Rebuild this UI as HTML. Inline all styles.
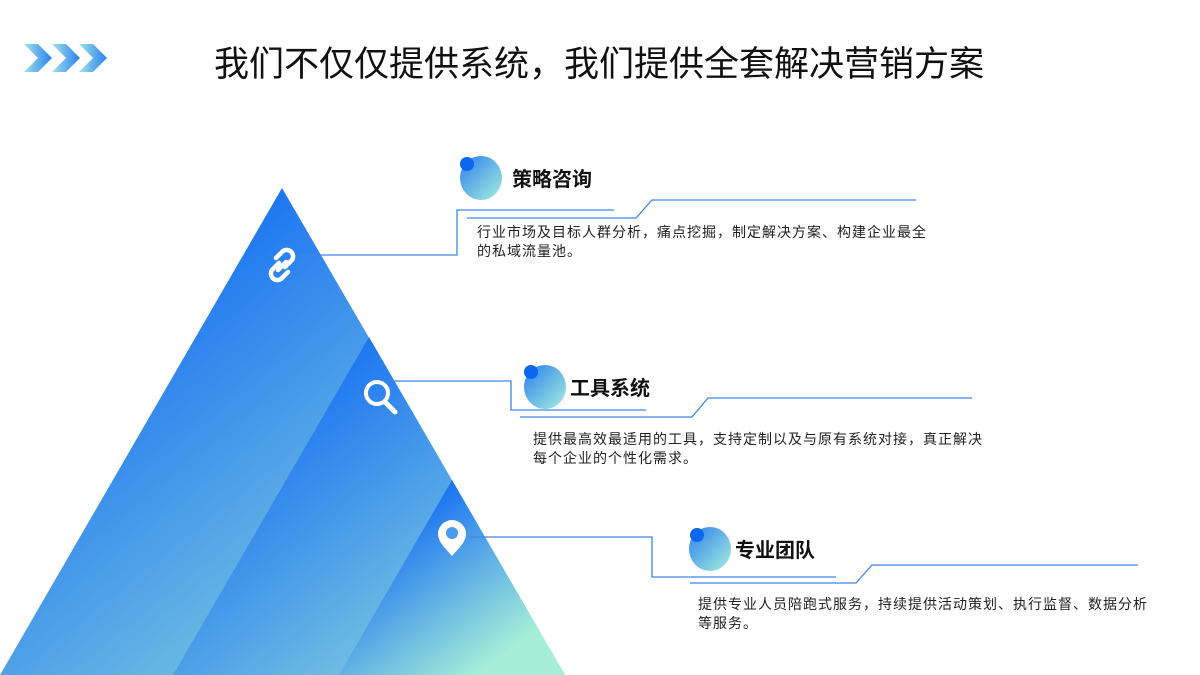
<!DOCTYPE html>
<html><head><meta charset="utf-8"><style>
html,body{margin:0;padding:0;background:#fff;}
body{width:1200px;height:675px;position:relative;overflow:hidden;font-family:"Liberation Sans","Noto Sans CJK SC",sans-serif;}
.t{position:absolute;white-space:nowrap;color:#111;}
.d{font-size:14px;line-height:19px;color:#222;letter-spacing:1px;}
</style></head><body>
<svg width="1200" height="675" style="position:absolute;left:0;top:0">
<defs>
<linearGradient id="g1" gradientUnits="userSpaceOnUse" x1="200" y1="250" x2="560" y2="700"><stop offset="0" stop-color="#1e76f1"/><stop offset="1" stop-color="#a6eed8"/></linearGradient>
<linearGradient id="g2" gradientUnits="userSpaceOnUse" x1="300" y1="390" x2="560" y2="720"><stop offset="0" stop-color="#1e76f1"/><stop offset="1" stop-color="#a6eed8"/></linearGradient>
<linearGradient id="g3" gradientUnits="userSpaceOnUse" x1="410" y1="520" x2="510" y2="650"><stop offset="0" stop-color="#1e76f1"/><stop offset="1" stop-color="#a6eed8"/></linearGradient>
<linearGradient id="gc" x1="0" y1="0" x2="1" y2="1"><stop offset="0" stop-color="#2b7ff0"/><stop offset="1" stop-color="#a6efdc"/></linearGradient>
<linearGradient id="gv" x1="0" y1="0" x2="1" y2="0"><stop offset="0" stop-color="#9fe3e4"/><stop offset="1" stop-color="#2a80f2"/></linearGradient>
</defs>
<polygon points="24,44 38,44 52,58 38,72 24,72 38,58" fill="url(#gv)"/>
<polygon points="52,44 66,44 80,58 66,72 52,72 66,58" fill="url(#gv)"/>
<polygon points="79,44 93,44 107,58 93,72 79,72 93,58" fill="url(#gv)"/>
<polygon points="282,188 565,675 0,675" fill="url(#g1)"/>
<polygon points="369,337 565,675 173,675" fill="url(#g2)"/>
<polygon points="452,480 565,675 339,675" fill="url(#g3)"/>
<g fill="none" stroke="#fff" stroke-width="4.5" stroke-linecap="round">
<path d="M276 258 l7-7 a6.5 6.5 0 0 1 9 9 l-7 7"/>
<path d="M288 272 l-7 7 a6.5 6.5 0 0 1 -9 -9 l7 -7"/>
<line x1="278" y1="270" x2="286" y2="262"/>
<circle cx="377" cy="393" r="11" stroke-width="4"/>
<line x1="385" y1="402" x2="395" y2="412" stroke-width="5"/>
</g>
<path d="M452 556 C446 549 438 542 438 534 a14 14 0 0 1 28 0 C466 542 458 549 452 556Z" fill="#fff"/>
<circle cx="452" cy="533" r="6" fill="#4a9aec"/>
<g fill="none" stroke="#3d86ec" stroke-width="1.3">
<polyline points="300,255 457,255 457,210 614,210"/>
<polyline points="467,218 636,218 652,200 916,200"/>
<polyline points="388,381 511,381 511,410 646,410"/>
<polyline points="520,417 692,417 708,398 972,398"/>
<polyline points="468,537 652,537 652,577 836,577"/>
<polyline points="690,583 856,583 872,565 1138,565"/>
</g>
<ellipse cx="481" cy="178" rx="21" ry="22" fill="url(#gc)"/><circle cx="467" cy="164" r="7" fill="#0b66f2"/>
<ellipse cx="545" cy="387" rx="21" ry="22" fill="url(#gc)"/><circle cx="531" cy="372" r="7" fill="#0b66f2"/>
<ellipse cx="710" cy="549" rx="21" ry="22" fill="url(#gc)"/><circle cx="697" cy="535" r="7" fill="#0b66f2"/>
</svg>
<div class="t" style="left:214px;top:36px;font-size:35px;color:#111;">我们不仅仅提供系统，我们提供全套解决营销方案</div>
<div class="t" style="left:512px;top:163px;font-size:20px;font-weight:bold;">策略咨询</div>
<div class="t d" style="left:477px;top:223px;">行业市场及目标人群分析，痛点挖掘，制定解决方案、构建企业最全<br>的私域流量池。</div>
<div class="t" style="left:570px;top:372px;font-size:20px;font-weight:bold;">工具系统</div>
<div class="t d" style="left:533px;top:430px;">提供最高效最适用的工具，支持定制以及与原有系统对接，真正解决<br>每个企业的个性化需求。</div>
<div class="t" style="left:735px;top:534px;font-size:20px;font-weight:bold;">专业团队</div>
<div class="t d" style="left:698px;top:595px;">提供专业人员陪跑式服务，持续提供活动策划、执行监督、数据分析<br>等服务。</div>
</body></html>
